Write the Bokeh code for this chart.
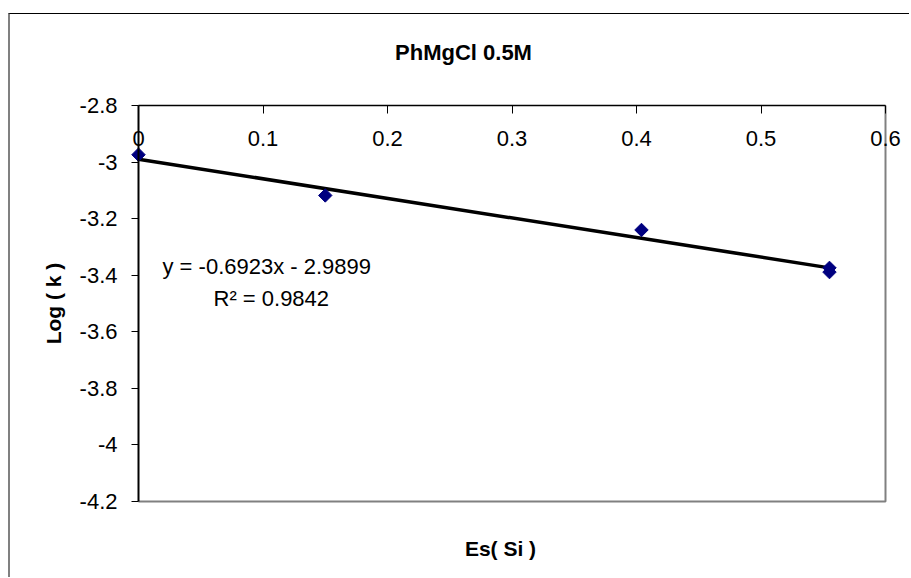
import numpy as np
from bokeh.plotting import figure
from bokeh.models import Range1d, FixedTicker, Label, CustomJSTickFormatter
from bokeh.embed import file_html
from bokeh.resources import INLINE

# ---- data ----
es_si = [0.0, 0.15, 0.404, 0.555, 0.555]
log_k = [-2.974, -3.118, -3.240, -3.374, -3.389]
trend_slope = -0.6923
trend_intercept = -2.9899
r_squared = 0.9842

x_min, x_max = 0.0, 0.6          # horizontal axis limits
y_min, y_max = -4.2, -2.8        # vertical axis limits
x_ticks = [0.0, 0.1, 0.2, 0.3, 0.4, 0.5, 0.6]
x_tick_labels = ["0", "0.1", "0.2", "0.3", "0.4", "0.5", "0.6"]
y_ticks = [-4.2, -4.0, -3.8, -3.6, -3.4, -3.2, -3.0, -2.8]
y_tick_labels = ["-4.2", "-4", "-3.8", "-3.6", "-3.4", "-3.2", "-3", "-2.8"]

chart_title = "PhMgCl 0.5M"
x_title = "Es( Si )"
y_title = "Log ( k )"

FONT = "Liberation Sans"

# ---- layout (canvas pixels) ----
CANVAS_W, CANVAS_H = 901, 564
PLOT_L, PLOT_R, PLOT_T, PLOT_B = 128, 875, 91, 487

xs = (x_max - x_min) / (PLOT_R - PLOT_L)
ys = (y_max - y_min) / (PLOT_B - PLOT_T)
x_start = x_min - PLOT_L * xs
x_end = x_max + (CANVAS_W - PLOT_R) * xs
y_end = y_max + PLOT_T * ys
y_start = y_min - (CANVAS_H - PLOT_B) * ys


def px_x(px):
    return x_start + px * xs


def px_y(py):
    return y_end - py * ys


p = figure(width=CANVAS_W, height=CANVAS_H, output_backend="svg", toolbar_location=None,
           title=None, x_range=Range1d(x_start, x_end), y_range=Range1d(y_start, y_end),
           min_border_left=0, min_border_right=0, min_border_top=0, min_border_bottom=0,
           background_fill_color="white", border_fill_color="white")
p.styles = {"position": "relative", "left": "8px", "top": "13px",
            "border-top": "1px solid #000000", "border-left": "2px solid #808080"}

p.xgrid.visible = False
p.ygrid.visible = False
p.outline_line_color = None

fmt_code = """
let best = 0;
for (let i = 0; i < tv.length; i++) {
  if (Math.abs(tv[i] - tick) < Math.abs(tv[best] - tick)) best = i;
}
return tl[best];
"""

# plot-area border on the bottom and right (grey, like Excel)
p.line([x_min, x_max, x_max], [y_min, y_min, y_max], line_color="#808080", line_width=2)

# x axis at the top of the plot area (y = -2.8), labels below the line
xa = p.xaxis[0]
xa.ticker = FixedTicker(ticks=x_ticks)
xa.formatter = CustomJSTickFormatter(args=dict(tv=x_ticks, tl=x_tick_labels), code=fmt_code)
xa.fixed_location = y_max
xa.bounds = (x_min, x_max)
xa.major_tick_in = 0
xa.major_tick_out = 8
xa.minor_tick_line_color = None
xa.axis_line_color = "black"
xa.axis_line_width = 1.5
xa.major_tick_line_color = "black"
xa.major_label_text_font = FONT
xa.major_label_text_font_size = "22px"
xa.major_label_text_color = "black"
xa.major_label_standoff = 17

ya = p.yaxis[0]
ya.ticker = FixedTicker(ticks=y_ticks)
ya.formatter = CustomJSTickFormatter(args=dict(tv=y_ticks, tl=y_tick_labels), code=fmt_code)
ya.fixed_location = x_min
ya.bounds = (y_min, y_max)
ya.major_tick_in = 0
ya.major_tick_out = 7
ya.minor_tick_line_color = None
ya.axis_line_color = "black"
ya.axis_line_width = 2
ya.major_tick_line_color = "black"
ya.major_label_text_font = FONT
ya.major_label_text_font_size = "22px"
ya.major_label_text_color = "black"
ya.major_label_standoff = 14
ya.axis_label = y_title
ya.axis_label_text_font = FONT
ya.axis_label_text_font_size = "21px"
ya.axis_label_text_font_style = "bold"
ya.axis_label_text_color = "black"
ya.axis_label_standoff = 12

# chart title and horizontal axis title
p.add_layout(Label(x=px_x(453), y=px_y(38), text=chart_title, text_align="center",
                   text_baseline="middle", text_font=FONT, text_font_size="22px",
                   text_font_style="bold", text_color="black"))
p.add_layout(Label(x=px_x(490), y=px_y(534), text=x_title, text_align="center",
                   text_baseline="middle", text_font=FONT, text_font_size="21px",
                   text_font_style="bold", text_color="black"))

# trendline
x0, x1 = min(es_si), max(es_si)
p.line([x0, x1], [trend_slope * x0 + trend_intercept, trend_slope * x1 + trend_intercept],
       line_color="black", line_width=3.5)

# data points (diamonds)
p.scatter(es_si, log_k, marker="square", angle=np.pi / 4, size=9.5,
          fill_color="#000080", line_color="#000080")

eq_text = f"y = {trend_slope}x - {abs(trend_intercept)}"
r2_text = f"R\u00b2 = {r_squared}"
p.add_layout(Label(x=px_x(152), y=px_y(252), text=eq_text, text_align="left",
                   text_baseline="middle", text_font=FONT, text_font_size="22px",
                   text_color="black"))
p.add_layout(Label(x=px_x(203), y=px_y(283.5), text=r2_text, text_align="left",
                   text_baseline="middle", text_font=FONT, text_font_size="22px",
                   text_color="black"))

open("out.html", "w").write(file_html(p, INLINE))
